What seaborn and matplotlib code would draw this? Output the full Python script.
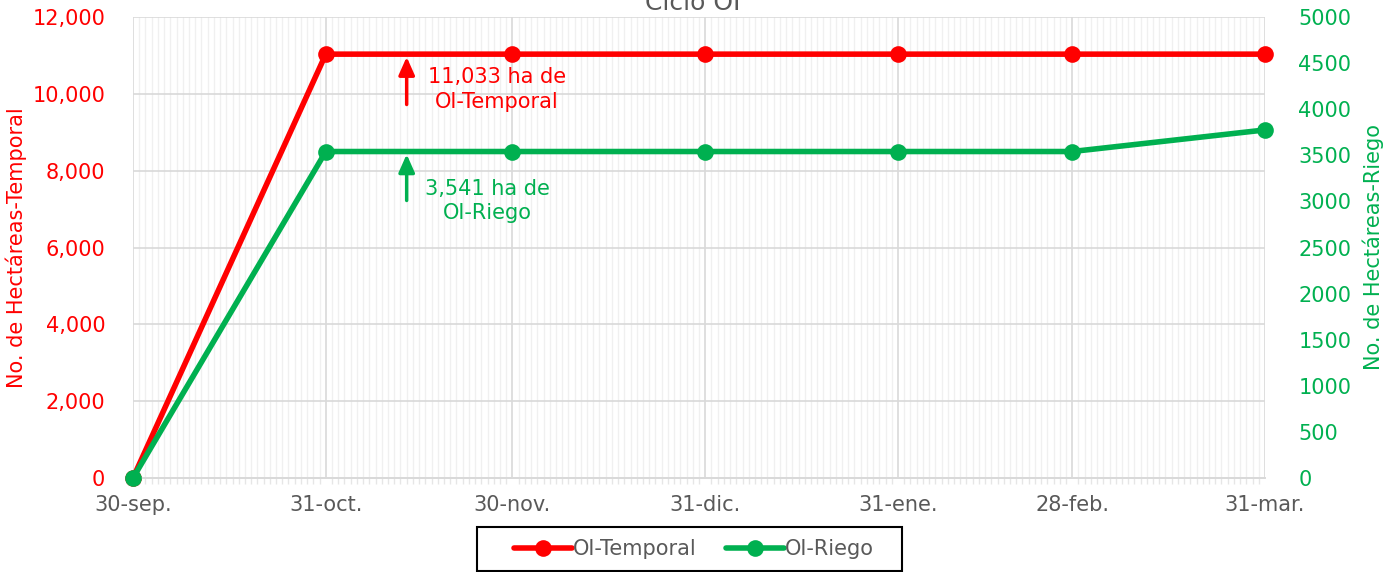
import matplotlib
matplotlib.use("Agg")
import matplotlib.pyplot as plt
import matplotlib.dates as mdates
from matplotlib.patches import Rectangle
import seaborn as sns
import pandas as pd
import numpy as np

fechas = ["2022-09-30", "2022-10-31", "2022-11-30", "2022-12-31", "2023-01-31", "2023-02-28", "2023-03-31"]
etiquetas = ["30-sep.", "31-oct.", "30-nov.", "31-dic.", "31-ene.", "28-feb.", "31-mar."]
temporal = [0, 11033, 11033, 11033, 11033, 11033, 11033]
riego = [0, 3541, 3541, 3541, 3541, 3541, 3775]

ROJO = "#FF0000"
VERDE = "#00B050"
GRIS = "#595959"

sns.set_theme(style="white")
plt.rcParams['font.family'] = ['DejaVu Sans']

df = pd.DataFrame({"fecha": pd.to_datetime(fechas), "temporal": temporal, "riego": riego})

fig = plt.figure(figsize=(13.84, 5.72), dpi=100)
ax = fig.add_axes([133/1384, 1 - 478/572, (1265-133)/1384, (478-17)/572])
ax2 = ax.twinx()

x0, x1 = df["fecha"].iloc[0], df["fecha"].iloc[-1]
ax.set_xlim(x0, x1)
ax.set_ylim(0, 12000)
ax2.set_ylim(0, 5000)

# grid
ax.set_xticks(df["fecha"])
ax.set_xticklabels(etiquetas)
ax.xaxis.set_minor_locator(mdates.DayLocator())
ax.grid(True, which="major", axis="both", color="#D9D9D9", lw=1.2)
ax.grid(True, which="minor", axis="x", color="#F0F0F0", lw=1.0)
ax.set_axisbelow(True)
ax.tick_params(axis="x", which="minor", length=4, color="#E6E6E6", bottom=True)
ax.tick_params(axis="x", which="major", length=0, labelsize=15, labelcolor=GRIS, pad=12)

ax.set_yticks(np.arange(0, 12001, 2000))
ax.set_yticklabels([f"{v:,.0f}" for v in np.arange(0, 12001, 2000)])
ax.tick_params(axis="y", length=0, labelsize=15, labelcolor=ROJO, pad=20)
ax2.set_yticks(np.arange(0, 5001, 500))
ax2.tick_params(axis="y", length=0, labelsize=15, labelcolor=VERDE, pad=24)
ax2.grid(False)

for a in (ax, ax2):
    for s in ["left", "right", "top"]:
        a.spines[s].set_visible(False)
    a.spines["bottom"].set_color("#D9D9D9")

sns.lineplot(data=df, x="fecha", y="temporal", ax=ax, color=ROJO, lw=4, marker="o",
             markersize=12, markeredgewidth=0, clip_on=False, label="OI-Temporal", legend=False, zorder=3)
sns.lineplot(data=df, x="fecha", y="riego", ax=ax2, color=VERDE, lw=4, marker="o",
             markersize=12, markeredgewidth=0, clip_on=False, label="OI-Riego", legend=False, zorder=3)

ax.set_xlabel("")
ax.set_ylabel("No. de Hectáreas-Temporal", color=ROJO, fontsize=15, labelpad=4)
ax2.set_ylabel("No. de Hectáreas-Riego", color=VERDE, fontsize=15, labelpad=8)

# annotations
xa = pd.Timestamp("2022-11-13")
ax.annotate("", xy=(xa, 11033), xytext=(xa, 9650),
            arrowprops=dict(arrowstyle="-|>,head_width=0.4,head_length=0.9", color=ROJO, lw=2.5))
ax.text(pd.Timestamp("2022-11-27 12:00"), 10120, "11,033 ha de\nOI-Temporal", color=ROJO, fontsize=15,
        ha="center", va="center", linespacing=1.3)
ax2.annotate("", xy=(xa, 3541), xytext=(xa, 2980),
             arrowprops=dict(arrowstyle="-|>,head_width=0.4,head_length=0.9", color=VERDE, lw=2.5))
ax2.text(pd.Timestamp("2022-11-26"), 3005, "3,541 ha de\nOI-Riego", color=VERDE, fontsize=15,
         ha="center", va="center", linespacing=1.3)

fig.text(693/1384, 1 - 3/572, "Ciclo OI", color=GRIS, fontsize=18, ha="center", va="center")

h1, l1 = ax.get_legend_handles_labels()
h2, l2 = ax2.get_legend_handles_labels()
leg = fig.legend(h1 + h2, l1 + l2, loc="center", bbox_to_anchor=(694/1384, 1 - 549/572), ncol=2,
                 fontsize=15, frameon=False, handlelength=2.8,
                 borderpad=0.3, borderaxespad=0, columnspacing=1.4, handletextpad=0.05)
for t in leg.get_texts():
    t.set_color(GRIS)
fig.patches.append(Rectangle((477/1384, 1 - 571/572), 425/1384, 44/572, transform=fig.transFigure,
                             fill=False, edgecolor="black", lw=1.5, zorder=5))

fig.savefig("out.png", dpi=100)
